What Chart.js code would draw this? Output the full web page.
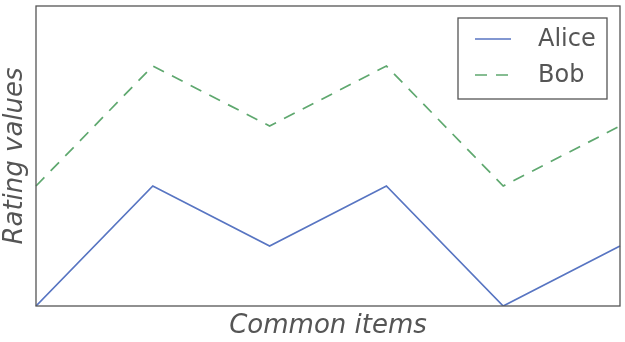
<!DOCTYPE html>
<html>
<head>
<meta charset="utf-8">
<script src="https://cdn.jsdelivr.net/npm/chart.js@4"></script>
<style>
html,body{margin:0;padding:0;background:#fff;}
#wrap{width:625px;height:342px;position:relative;}
</style>
</head>
<body>
<div id="wrap"><canvas id="c" width="625" height="342"></canvas></div>
<script>
const categories = ["Item 1", "Item 2", "Item 3", "Item 4", "Item 5", "Item 6"];
const aliceValues = [0, 2, 1, 2, 0, 1];
const bobValues = [2, 4, 3, 4, 2, 3];
const seriesNames = ["Alice", "Bob"];
const xTitle = "Common items";
const yTitle = "Rating values";

const TEXT = "#555555";
const FONT = "'DejaVu Sans', sans-serif";

const framePlugin = {
  id: 'frame',
  afterDraw(chart) {
    const {ctx, chartArea: a} = chart;
    ctx.save();
    ctx.strokeStyle = "#555555";
    ctx.lineWidth = 1.3;
    ctx.strokeRect(a.left, a.top, a.right - a.left, a.bottom - a.top);
    // legend box
    const bx = 458, by = 18, bw = 149, bh = 81;
    ctx.fillStyle = "rgba(255,255,255,0.9)";
    ctx.fillRect(bx, by, bw, bh);
    ctx.strokeStyle = "#555555";
    ctx.lineWidth = 1.3;
    ctx.strokeRect(bx, by, bw, bh);
    const ds = chart.data.datasets;
    const rows = [39, 75];
    ds.forEach((d, i) => {
      ctx.beginPath();
      ctx.strokeStyle = d.borderColor;
      ctx.lineWidth = d.borderWidth;
      ctx.setLineDash(d.borderDash || []);
      ctx.moveTo(475, rows[i]);
      ctx.lineTo(511, rows[i]);
      ctx.stroke();
      ctx.setLineDash([]);
      ctx.fillStyle = TEXT;
      ctx.font = "24px " + FONT;
      ctx.textBaseline = "middle";
      ctx.textAlign = "left";
      ctx.fillText(d.label, 538, rows[i] + 1);
    });
    ctx.restore();
  }
};

new Chart(document.getElementById('c'), {
  type: 'line',
  data: {
    labels: categories,
    datasets: [
      {label: seriesNames[0], data: aliceValues, borderColor: "#5875c2", borderWidth: 1.7, pointRadius: 0, fill: false, tension: 0},
      {label: seriesNames[1], data: bobValues, borderColor: "#5fa86f", borderWidth: 1.7, borderDash: [12, 9], pointRadius: 0, fill: false, tension: 0}
    ]
  },
  options: {
    responsive: false,
    animation: false,
    devicePixelRatio: 1,
    layout: {padding: {top: 6, right: 5, left: 0, bottom: 0}},
    plugins: {legend: {display: false}, tooltip: {enabled: false}},
    scales: {
      x: {
        type: 'category',
        offset: false,
        grid: {display: false},
        border: {display: false},
        ticks: {display: false},
        title: {display: true, text: xTitle, color: TEXT, font: {family: FONT, size: 26, style: 'italic'}, padding: {top: 2, bottom: 0}},
        afterFit(s) { s.height = 36; }
      },
      y: {
        min: 0, max: 5,
        grid: {display: false},
        border: {display: false},
        ticks: {display: false},
        title: {display: true, text: yTitle, color: TEXT, font: {family: FONT, size: 26, style: 'italic'}, padding: {top: 0, bottom: 0}},
        afterFit(s) { s.width = 36; }
      }
    }
  },
  plugins: [framePlugin]
});
</script>
</body>
</html>
